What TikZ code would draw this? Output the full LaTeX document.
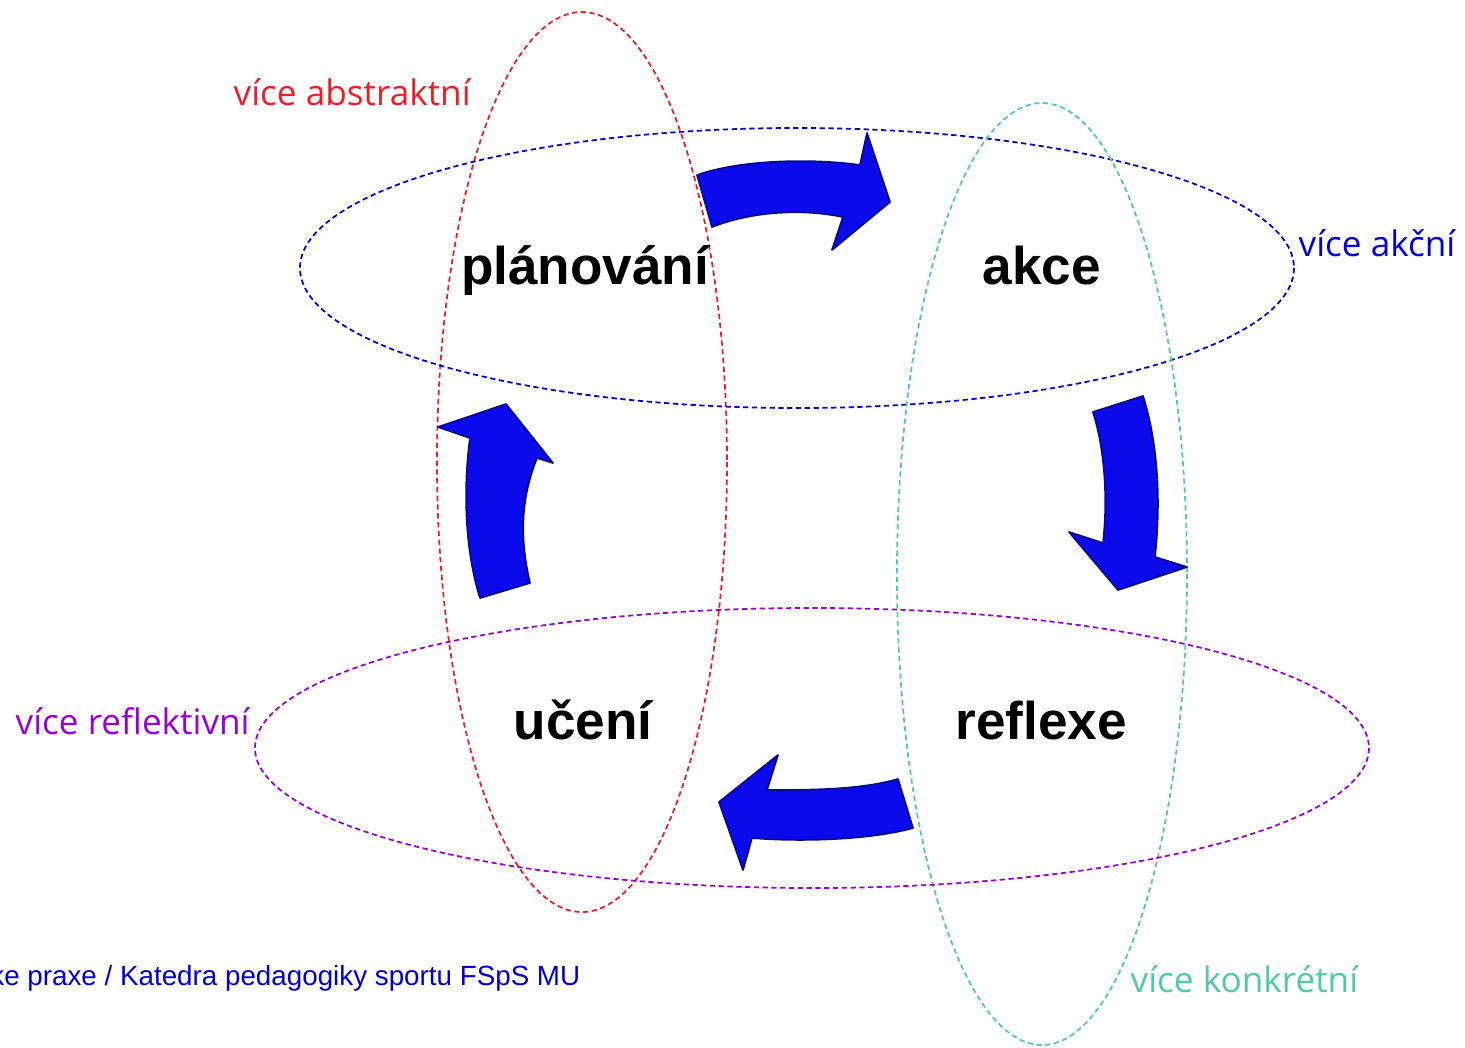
\documentclass[tikz,border=0pt]{standalone}
\usepackage{fontspec}
\setmainfont{Liberation Sans}
\newfontfamily\labelfont{Open Sans}
\definecolor{abstrred}{RGB}{235,30,40}
\definecolor{akcniblue}{RGB}{0,0,220}
\definecolor{konkrteal}{RGB}{80,200,170}
\definecolor{reflpurple}{RGB}{150,0,220}
\definecolor{arrowblue}{RGB}{10,10,235}
\definecolor{arrowdark}{RGB}{10,10,140}
\definecolor{footblue}{RGB}{0,0,210}
\begin{document}
\begin{tikzpicture}[
	x=0.01cm,
	y=-0.01cm,
	ring/.style={
		dashed,
		dash pattern=on 1.5pt off 1pt,
		line width=0.5pt
	},
	word/.style={
		font=\fontsize{15.1}{18}\selectfont\bfseries,
		inner sep=0pt,
		anchor=base
	},
	side/.style={
		font=\labelfont\fontsize{10}{12}\selectfont,
		inner sep=0pt,
		anchor=base west
	},
	bigarrow/.style={
		fill=arrowblue,
		draw=arrowdark,
		line width=0.5pt,
		line join=round
	}
]
\clip (0,0) rectangle (1465,1047);

% the four dashed ellipses
\draw[ring, abstrred] (582,462) ellipse [x radius=145, y radius=450];
\draw[ring, akcniblue] (797,268) ellipse [x radius=497, y radius=140];
\draw[ring, konkrteal] (1042,574) ellipse [x radius=145, y radius=471];
\draw[ring, reflpurple] (812,748) ellipse [x radius=557, y radius=140];

% the four steps
\node[word] (plan) at (585,284) {plánování};
\node[word] (akce) at (1042,284) {akce};
\node[word] (uceni) at (583,739) {učení};
\node[word] (reflexe) at (1041,739) {reflexe};

% block arrows
\draw[bigarrow] (697,175) .. controls (740,160) and (810,158) .. (860,165)
	-- (867,133) -- (890,202) -- (832,250) -- (843,217)
	.. controls (800,208) and (750,212) .. (712,227) -- cycle;
\draw[bigarrow] (1093,412) -- (1143,396)
	.. controls (1160,450) and (1160,510) .. (1155,557)
	-- (1187,567) -- (1118,590) -- (1069,532) -- (1103,543)
	.. controls (1108,500) and (1105,450) .. (1093,412) -- cycle;
\draw[bigarrow] (898,779) .. controls (860,790) and (810,790) .. (767,790)
	-- (778,755) -- (719,802) -- (743,870) -- (752,838)
	.. controls (800,842) and (870,840) .. (913,828) -- cycle;
\draw[bigarrow] (480,598) .. controls (465,550) and (463,490) .. (470,438)
	-- (438,427) -- (506,404) -- (553,463) -- (537,458)
	.. controls (520,500) and (520,540) .. (530,583) -- cycle;

% labels of the ellipses
\node[side, text=abstrred] (abstr) at (233,105) {více abstraktní};
\node[side, text=akcniblue] (akcni) at (1298,256) {více akční};
\node[side, text=reflpurple] (reflekt) at (15,734) {více reflektivní};
\node[side, text=konkrteal] (konkr) at (1130,992) {více konkrétní};

\node[inner sep=0pt, anchor=base east, text=footblue,
	font=\fontsize{7.9}{9}\selectfont] (footer) at (581,985)
	{ke praxe / Katedra pedagogiky sportu FSpS MU};

\end{tikzpicture}
\end{document}
